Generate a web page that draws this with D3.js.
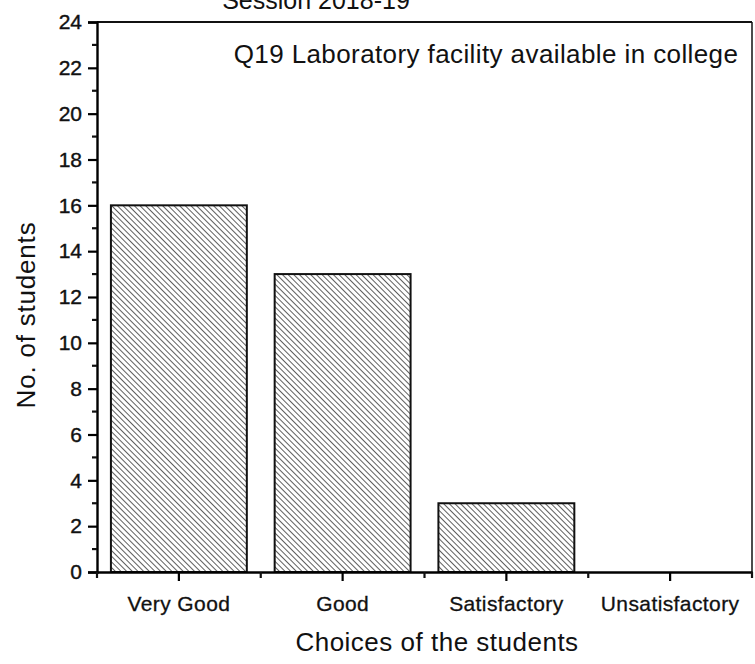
<!DOCTYPE html>
<html>
<head>
<meta charset="utf-8">
<script src="https://cdn.jsdelivr.net/npm/d3@7"></script>
<style>
  body { margin: 0; background: #fff; }
  svg { display: block; font-family: "Liberation Sans", Arial, sans-serif; }
</style>
</head>
<body>
<svg id="chart"></svg>
<script>
// chart data
const categories = ['Very Good', 'Good', 'Satisfactory', 'Unsatisfactory'];
const counts = [16, 13, 3, 0];
const yTicks = [0, 2, 4, 6, 8, 10, 12, 14, 16, 18, 20, 22, 24];
const sessionTitle = 'Session 2018-19';
const questionTitle = 'Q19 Laboratory facility available in college';

let svg = d3.select('#chart')
    .attr('width', 755)
    .attr('height', 664),
  margin = {top: 22, right: 3, bottom: 92, left: 97},
  width = +svg.attr('width') - margin.left - margin.right,
  height = +svg.attr('height') - margin.top - margin.bottom;

// hatch pattern for the bars (lines running top-left to bottom-right)
let hatch = 4;
let pattern = svg.append('defs').append('pattern')
  .attr('id', 'hatch')
  .attr('patternUnits', 'userSpaceOnUse')
  .attr('width', hatch)
  .attr('height', hatch)
  .attr('patternTransform', 'rotate(-45)');
pattern.append('rect')
  .attr('width', hatch).attr('height', hatch).attr('fill', '#fff');
pattern.append('line')
  .attr('x1', 0).attr('y1', 0).attr('x2', 0).attr('y2', hatch)
  .attr('stroke', '#1a1a1a').attr('stroke-width', 1.4);

let g = svg.append('g')
  .attr('transform', 'translate(' + margin.left + ',' + margin.top + ')');

let xScale = d3.scaleBand()
  .domain(categories)
  .range([0, width])
  .paddingInner(0.17)
  .paddingOuter(0.085);

let yScale = d3.scaleLinear()
  .domain([0, 24])
  .range([height, 0]);

// bars
g.append('g')
  .selectAll('rect')
  .data(counts)
  .enter().append('rect')
  .attr('x', (d, i) => xScale(categories[i]))
  .attr('y', d => yScale(d))
  .attr('width', xScale.bandwidth())
  .attr('height', d => height - yScale(d))
  .attr('fill', 'url(#hatch)')
  .attr('stroke', '#111')
  .attr('stroke-width', 2)
  .style('display', d => d > 0 ? null : 'none');

// frame top and right
g.append('line')
  .attr('x1', 0).attr('x2', width).attr('y1', 0).attr('y2', 0)
  .attr('stroke', '#111').attr('stroke-width', 2);
g.append('line')
  .attr('x1', width).attr('x2', width).attr('y1', 0).attr('y2', height)
  .attr('stroke', '#111').attr('stroke-width', 1.5);

// y axis
let yAxis = g.append('g')
  .attr('class', 'axis yaxis')
  .call(d3.axisLeft(yScale).tickValues(yTicks).tickSize(9).tickPadding(6));
yAxis.select('.domain').attr('stroke-width', 2.4);
yAxis.selectAll('.tick line').attr('stroke-width', 2.2);
yAxis.selectAll('text')
  .attr('fill', '#111')
  .attr('stroke', '#111')
  .attr('stroke-width', 0.4)
  .style('font-size', '21px');

// minor y ticks
g.append('g')
  .selectAll('line')
  .data(d3.range(1, 24, 2))
  .enter().append('line')
  .attr('x1', -5).attr('x2', 0)
  .attr('y1', d => yScale(d)).attr('y2', d => yScale(d))
  .attr('stroke', '#111').attr('stroke-width', 2.2);

// x axis
let xAxis = g.append('g')
  .attr('class', 'axis xaxis')
  .attr('transform', 'translate(0,' + height + ')')
  .call(d3.axisBottom(xScale).tickSize(9).tickSizeOuter(0).tickPadding(15));
xAxis.select('.domain').attr('stroke-width', 2.4);
xAxis.selectAll('.tick line').attr('stroke-width', 2.2);
xAxis.selectAll('text')
  .attr('fill', '#111')
  .attr('stroke', '#111')
  .attr('stroke-width', 0.3)
  .style('font-size', '21px')
  .style('letter-spacing', '0.4px');

// minor x ticks at band boundaries
let step = xScale.step();
g.append('g')
  .selectAll('line')
  .data(d3.range(0, categories.length + 1))
  .enter().append('line')
  .attr('x1', i => i * step).attr('x2', i => i * step)
  .attr('y1', height).attr('y2', height + 6)
  .attr('stroke', '#111').attr('stroke-width', 2.2);

// axis titles
svg.append('text')
  .attr('transform', 'translate(35,' + (margin.top + height / 2 + 18) + ') rotate(-90)')
  .attr('text-anchor', 'middle')
  .attr('fill', '#111')
  .style('font-size', '26px')
  .style('letter-spacing', '0.8px')
  .text('No. of students');

svg.append('text')
  .attr('x', 437)
  .attr('y', 651)
  .attr('text-anchor', 'middle')
  .attr('fill', '#111')
  .style('font-size', '26px')
  .style('letter-spacing', '0.5px')
  .text('Choices of the students');

// titles
svg.append('text')
  .attr('x', 316)
  .attr('y', 9)
  .attr('text-anchor', 'middle')
  .attr('fill', '#111')
  .style('font-size', '25px')
  .text(sessionTitle);

svg.append('text')
  .attr('x', 486)
  .attr('y', 63)
  .attr('text-anchor', 'middle')
  .attr('fill', '#111')
  .style('font-size', '26px')
  .style('letter-spacing', '0.4px')
  .text(questionTitle);
</script>
</body>
</html>
